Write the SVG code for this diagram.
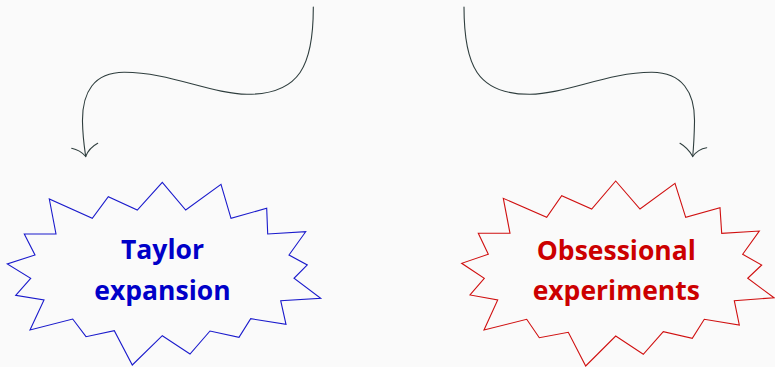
<svg xmlns="http://www.w3.org/2000/svg" width="775" height="367" viewBox="0 0 775 367">
  <style>
    .burst { fill: #fafafa; stroke-width: 1.1; stroke-linejoin: miter; }
    .blue { stroke: #1a1acc; }
    .red { stroke: #d01010; }
    .label { font-family: "Open Sans", "Noto Sans", sans-serif; font-weight: 700; font-size: 26.5px; text-anchor: middle; }
    .link { fill: none; stroke: #2f3e3e; stroke-width: 1.1; stroke-linecap: round; }
  </style>
  <rect width="775" height="367" fill="#fafafa"/>

  <g id="connectors">
    <path class="link" d="M313.3,7 C313.5,65 300,94.5 247,94.3 C212,94 168,72 124,72.3 C94,72.5 82,92 82.5,122 C82.8,138 84.5,148 85.7,156.5"/>
    <path class="link" d="M71.7,148.3 Q80,150 85.7,156.5 Q89,148 97.7,143.3"/>
    <path class="link" d="M464,7 C464,65 477,94.5 530,94.3 C565,94 609,72 652,72.3 C682,72.5 695,92 694.5,122 C694.2,138 693.5,148 692.7,156.5"/>
    <path class="link" d="M680,143.3 Q688,148 692.7,156.5 Q698,149 706.7,147.7"/>
  </g>

  <g id="taylor">
    <polygon class="burst blue" points="162.3,182.3 185.7,210 221,184.3 231,218.3 266.7,208.3 267.7,234 305.7,231.7 289,255 307.3,265 294,278.3 320.7,298.3 280.7,300.7 286,324.3 250.7,318.7 239,337.3 210,331 190,354 162.3,335.7 132.3,365 114.3,330.7 86,336.7 72.7,319 30,330 44,300 15.7,295.3 30.7,278.3 7.3,264 35,255 24.3,234 56,234 49.3,199 92.3,218.3 108.3,196.7 137.3,210"/>
    <text class="label" fill="#0000c8"><tspan x="162.5" y="259">Taylor</tspan><tspan x="162.5" y="300">expansion</tspan></text>
  </g>

  <g id="obsessional">
    <polygon class="burst red" points="615.7,181 640,209 675,183.3 685.7,217.3 720,207.7 721.7,233.3 759.3,231 742.7,254.3 761.7,265 747.7,278.3 774,297.7 734.3,300.7 739.3,325 704.3,319.3 692.3,338.3 663.3,331.7 643.3,354.3 615.7,336 585.7,366 568.3,332.3 539.3,337.7 526.7,319.3 484,330 497.7,300 470,295 484.3,278.3 461.7,263.3 488.3,254.3 478.3,233.3 510,233.3 503.3,198.3 546.7,217.3 561.7,195.7 591.7,209"/>
    <text class="label" fill="#cc0000"><tspan x="616.3" y="260">Obsessional</tspan><tspan x="616.3" y="300">experiments</tspan></text>
  </g>
</svg>
